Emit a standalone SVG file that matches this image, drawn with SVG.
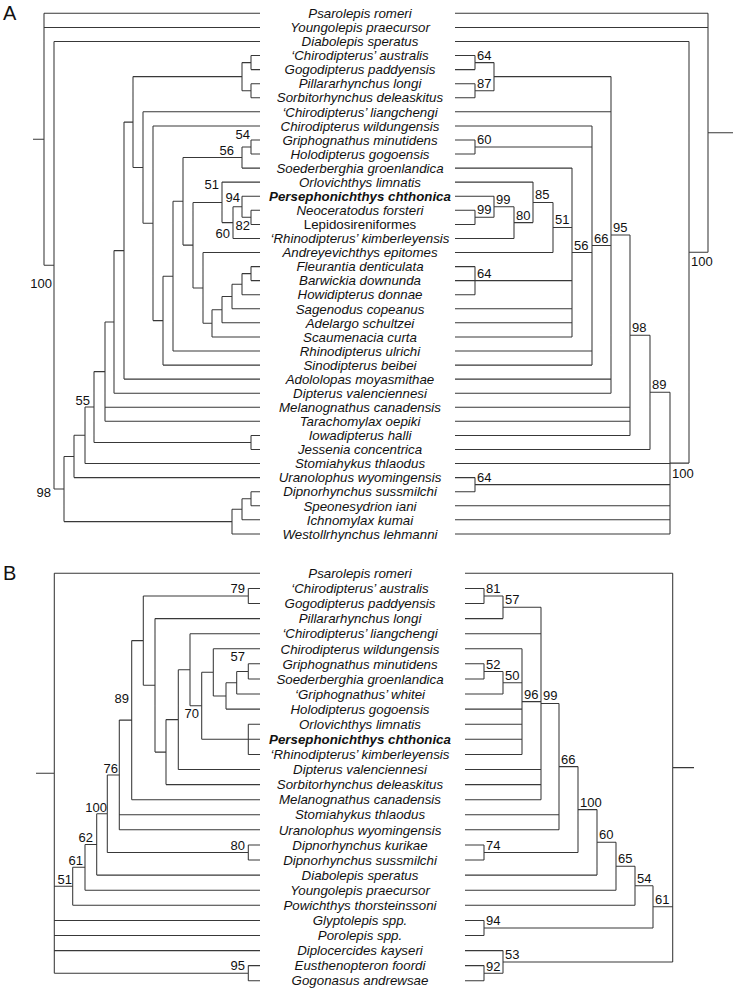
<svg xmlns="http://www.w3.org/2000/svg" width="738" height="992" viewBox="0 0 738 992">
<style>
.t{font-family:"Liberation Sans",Arial,sans-serif;font-size:13.3px;font-style:italic;text-anchor:middle;fill:#111}
.b{font-weight:bold}
.r{font-style:normal}
.s{font-family:"Liberation Sans",Arial,sans-serif;font-size:13px;fill:#111}
.e{text-anchor:end}
.p{font-family:"Liberation Sans",Arial,sans-serif;font-size:20px;fill:#111}
.c path{stroke:#383838;stroke-width:1.05;fill:none}
</style>
<rect width="738" height="992" fill="#fff"/>
<text class="p" x="3" y="20">A</text>
<text class="p" x="3" y="580">B</text>

<g id="connectors" class="c">
<!-- Panel A left tree -->
<path d="M33 139.3H44M44 13.3V265.2M44 13.3H260M44 27.4H260M44 265.2H54M54 41.4V489M54 41.4H260M54 489H64M64 456.5V521.6M64 456.5H74M64 521.6H232M232 509.3V533.9M232 509.3H242M232 533.9H260M242 498.7V519.8M242 498.7H251M242 519.8H260M251 491.7V505.8M251 491.7H260M251 505.8H260"/>
<path d="M74 435.3V477.6M74 435.3H85M74 477.6H260M85 407V463.5M85 407H94M85 463.5H260M94 371.6V442.4M94 371.6H105M94 442.4H251M251 435.4V449.5M251 435.4H260M251 449.5H260M105 321.9V421.3M105 321.9H114M105 407.3H260M105 421.3H260M114 250.6V393.2M114 250.6H124M114 393.2H260M124 122.1V379.1M124 122.1H133M124 379.1H260"/>
<path d="M133 76.6V167.5M133 76.6H242M133 167.5H143M242 62.6V90.7M242 62.6H251M242 90.7H251M251 55.5V69.6M251 55.5H260M251 69.6H260M251 83.7V97.7M251 83.7H260M251 97.7H260"/>
<path d="M143 111.8V223.2M143 111.8H260M143 223.2H153M153 125.9V320.6M153 125.9H260M153 320.6H163M163 276.2V365.1M163 276.2H173M163 365.1H260M173 201.3V351M173 201.3H183M173 351H260M183 157.5V245.1M183 157.5H242M183 245.1H193M242 147V168.1M242 147H251M242 168.1H260M251 139.9V154M251 139.9H260M251 154H260"/>
<path d="M193 202.4V287.9M193 202.4H222M193 287.9H203M222 182.1V222.6M222 182.1H260M222 222.6H233M233 206.8V238.4M233 206.8H242M233 238.4H260M242 196.2V217.3M242 196.2H260M242 217.3H251M251 210.3V224.4M251 210.3H260M251 224.4H260"/>
<path d="M203 252.5V323.3M203 252.5H260M203 323.3H212M212 309.7V336.9M212 309.7H222M212 336.9H260M222 296.5V322.8M222 296.5H232M222 322.8H260M232 284.2V308.8M232 284.2H242M232 308.8H260M242 273.6V294.7M242 273.6H251M242 294.7H260M251 266.6V280.6M251 266.6H260M251 280.6H260"/>
<!-- Panel A right tree -->
<path d="M708 132.8H733M708 13.3V252.3M455 13.3H708M455 27.4H708M689 252.3H708M689 41.4V463.1M455 41.4H689M670 463.1H689M670 392.3V533.9M650 392.3H670M455 463.5H670M475 484.6H670M475 477.6V491.7M455 477.6H475M455 491.7H475M455 505.8H670M455 519.8H670M455 533.9H670"/>
<path d="M650 335.2V449.5M630 335.2H650M455 449.5H650M630 234.9V435.4M611 234.9H630M455 407.3H630M455 421.3H630M455 435.4H630M611 76.6V393.2M494 76.6H611M455 111.8H611M592 245.5H611M455 379.1H611M455 393.2H611"/>
<path d="M494 62.6V90.7M475 62.6H494M475 90.7H494M475 55.5V69.6M455 55.5H475M455 69.6H475M475 83.7V97.7M455 83.7H475M455 97.7H475"/>
<path d="M592 125.9V365.1M455 125.9H592M475 147H592M475 139.9V154M455 139.9H475M455 154H475M572 252.5H592M455 351H592M455 365.1H592"/>
<path d="M572 168.1V336.9M455 168.1H572M553 227.4H572M455 280.6H572M455 308.8H572M455 322.8H572M455 336.9H572M475 266.6V294.7M455 266.6H475M455 294.7H475"/>
<path d="M553 202.4V252.5M533 202.4H553M455 252.5H553M533 182.1V222.6M455 182.1H533M514 222.6H533M514 206.8V238.4M494 206.8H514M455 238.4H514M494 196.2V217.3M455 196.2H494M475 217.3H494M475 210.3V224.4M455 210.3H475M455 224.4H475"/>
<!-- Panel B left tree -->
<path d="M36 773.2H54.3M54.3 573.3V973.2M54.3 573.3H260M54.3 886.3H72.7M54.3 920.4H260M54.3 935.5H260M54.3 950.6H260M54.3 973.2H248.3M248.3 965.6V980.7M248.3 965.6H260M248.3 980.7H260"/>
<path d="M72.7 867.3V905.3M72.7 867.3H85M72.7 905.3H260M85 844.4V890.2M85 844.4H96.7M85 890.2H260M96.7 813.7V875.1M96.7 813.7H107.3M96.7 875.1H260M107.3 775V852.5M107.3 775H119.3M107.3 852.5H248.3M248.3 844.9V860M248.3 844.9H260M248.3 860H260"/>
<path d="M119.3 720.1V829.8M119.3 720.1H131.7M119.3 814.7H260M119.3 829.8H260M131.7 640.6V799.7M131.7 640.6H143.3M131.7 799.7H260M143.3 595.9V685.3M143.3 595.9H248.3M143.3 685.3H155M248.3 588.4V603.5M248.3 588.4H260M248.3 603.5H260"/>
<path d="M155 618.6V752.1M155 618.6H260M155 752.1H166M166 719.6V784.6M166 719.6H178.3M166 784.6H260M178.3 669.7V769.5M178.3 669.7H190M178.3 769.5H260M190 633.7V705.8M190 633.7H260M190 705.8H201.7"/>
<path d="M201.7 672.3V739.3M201.7 672.3H213.3M201.7 739.3H260M248.3 724.2V754.4M248.3 724.2H260M248.3 754.4H260M213.3 648.8V695.9M213.3 648.8H260M213.3 695.9H226M226 682.7V709.1M226 682.7H236.7M226 709.1H260M236.7 671.4V694M236.7 671.4H248.3M236.7 694H260M248.3 663.8V678.9M248.3 663.8H260M248.3 678.9H260"/>
<!-- Panel B right tree -->
<path d="M672.7 767.6H694M672.7 573.3V961.9M465 573.3H672.7M653 906.8H672.7M503 961.9H672.7M503 950.6V973.2M465 950.6H503M484 973.2H503M484 965.6V980.7M465 965.6H484M465 980.7H484"/>
<path d="M653 885.8V927.9M635 885.8H653M484 927.9H653M484 920.4V935.5M465 920.4H484M465 935.5H484M635 866.3V905.3M616 866.3H635M465 905.3H635M616 842.3V890.2M597 842.3H616M465 890.2H616M597 809.6V875.1M578 809.6H597M465 875.1H597"/>
<path d="M578 766.6V852.5M559 766.6H578M484 852.5H578M484 844.9V860M465 844.9H484M465 860H484M559 703.5V829.8M541 703.5H559M465 814.7H559M465 829.8H559"/>
<path d="M541 607.3V799.7M503 607.3H541M465 633.7H541M522 701.6H541M465 769.5H541M465 784.6H541M465 799.7H541M503 595.9V618.6M484 595.9H503M465 618.6H503M484 588.4V603.5M465 588.4H484M465 603.5H484"/>
<path d="M522 648.8V754.4M465 648.8H522M503 682.7H522M465 709.1H522M465 724.2H522M465 739.3H522M465 754.4H522M503 671.4V694M484 671.4H503M465 694H503M484 663.8V678.9M465 663.8H484M465 678.9H484"/>
</g>

<!-- Panel A taxa -->
<g id="A-psarolepis"><text class="t" x="360" y="18">Psarolepis romeri</text></g>
<g id="A-youngolepis"><text class="t" x="360" y="32.1">Youngolepis praecursor</text></g>
<g id="A-diabolepis"><text class="t" x="360" y="46.1">Diabolepis speratus</text></g>
<g id="A-chiro-australis"><text class="t" x="360" y="60.2">‘Chirodipterus’ australis</text></g>
<g id="A-gogodipterus"><text class="t" x="360" y="74.3">Gogodipterus paddyensis</text></g>
<g id="A-pillararhynchus"><text class="t" x="360" y="88.4">Pillararhynchus longi</text></g>
<g id="A-sorbitorhynchus"><text class="t" x="360" y="102.4">Sorbitorhynchus deleaskitus</text></g>
<g id="A-chiro-liangchengi"><text class="t" x="360" y="116.5">‘Chirodipterus’ liangchengi</text></g>
<g id="A-chiro-wildungensis"><text class="t" x="360" y="130.6">Chirodipterus wildungensis</text></g>
<g id="A-griphognathus"><text class="t" x="360" y="144.6">Griphognathus minutidens</text></g>
<g id="A-holodipterus"><text class="t" x="360" y="158.7">Holodipterus gogoensis</text></g>
<g id="A-soederberghia"><text class="t" x="360" y="172.8">Soederberghia groenlandica</text></g>
<g id="A-orlovichthys"><text class="t" x="360" y="186.8">Orlovichthys limnatis</text></g>
<g id="A-persephonichthys"><text class="t b" x="360" y="200.9">Persephonichthys chthonica</text></g>
<g id="A-neoceratodus"><text class="t" x="360" y="215">Neoceratodus forsteri</text></g>
<g id="A-lepidosireniformes"><text class="t r" x="360" y="229.1">Lepidosireniformes</text></g>
<g id="A-rhino-kimberleyensis"><text class="t" x="360" y="243.1">‘Rhinodipterus’ kimberleyensis</text></g>
<g id="A-andreyevichthys"><text class="t" x="360" y="257.2">Andreyevichthys epitomes</text></g>
<g id="A-fleurantia"><text class="t" x="360" y="271.3">Fleurantia denticulata</text></g>
<g id="A-barwickia"><text class="t" x="360" y="285.3">Barwickia downunda</text></g>
<g id="A-howidipterus"><text class="t" x="360" y="299.4">Howidipterus donnae</text></g>
<g id="A-sagenodus"><text class="t" x="360" y="313.5">Sagenodus copeanus</text></g>
<g id="A-adelargo"><text class="t" x="360" y="327.5">Adelargo schultzei</text></g>
<g id="A-scaumenacia"><text class="t" x="360" y="341.6">Scaumenacia curta</text></g>
<g id="A-rhino-ulrichi"><text class="t" x="360" y="355.7">Rhinodipterus ulrichi</text></g>
<g id="A-sinodipterus"><text class="t" x="360" y="369.8">Sinodipterus beibei</text></g>
<g id="A-adololopas"><text class="t" x="360" y="383.8">Adololopas moyasmithae</text></g>
<g id="A-dipterus"><text class="t" x="360" y="397.9">Dipterus valenciennesi</text></g>
<g id="A-melanognathus"><text class="t" x="360" y="412">Melanognathus canadensis</text></g>
<g id="A-tarachomylax"><text class="t" x="360" y="426">Tarachomylax oepiki</text></g>
<g id="A-iowadipterus"><text class="t" x="360" y="440.1">Iowadipterus halli</text></g>
<g id="A-jessenia"><text class="t" x="360" y="454.2">Jessenia concentrica</text></g>
<g id="A-stomiahykus"><text class="t" x="360" y="468.2">Stomiahykus thlaodus</text></g>
<g id="A-uranolophus"><text class="t" x="360" y="482.3">Uranolophus wyomingensis</text></g>
<g id="A-dipnorhynchus"><text class="t" x="360" y="496.4">Dipnorhynchus sussmilchi</text></g>
<g id="A-speonesydrion"><text class="t" x="360" y="510.5">Speonesydrion iani</text></g>
<g id="A-ichnomylax"><text class="t" x="360" y="524.5">Ichnomylax kumai</text></g>
<g id="A-westollrhynchus"><text class="t" x="360" y="538.6">Westollrhynchus lehmanni</text></g>

<!-- Panel A support values -->
<g id="A-support-left">
<text class="s e" x="250" y="139">54</text>
<text class="s e" x="234" y="155">56</text>
<text class="s e" x="219" y="189">51</text>
<text class="s e" x="240" y="202">94</text>
<text class="s e" x="250" y="230">82</text>
<text class="s e" x="230" y="238">60</text>
<text class="s e" x="90" y="405">55</text>
<text class="s e" x="52" y="288">100</text>
<text class="s e" x="51" y="497">98</text>
</g>
<g id="A-support-right">
<text class="s" x="477" y="59.5">64</text>
<text class="s" x="477" y="87.7">87</text>
<text class="s" x="477" y="144">60</text>
<text class="s" x="477" y="214.3">99</text>
<text class="s" x="496" y="203.8">99</text>
<text class="s" x="516" y="219.6">80</text>
<text class="s" x="535" y="199.4">85</text>
<text class="s" x="555" y="224.4">51</text>
<text class="s" x="477" y="277.6">64</text>
<text class="s" x="574" y="249.5">56</text>
<text class="s" x="594" y="242.5">66</text>
<text class="s" x="613" y="231.9">95</text>
<text class="s" x="632" y="332.2">98</text>
<text class="s" x="652" y="389.3">89</text>
<text class="s" x="477" y="481.7">64</text>
<text class="s" x="672" y="478">100</text>
<text class="s" x="691" y="266">100</text>
</g>

<!-- Panel B taxa -->
<g id="B-psarolepis"><text class="t" x="360" y="578">Psarolepis romeri</text></g>
<g id="B-chiro-australis"><text class="t" x="360" y="593.1">‘Chirodipterus’ australis</text></g>
<g id="B-gogodipterus"><text class="t" x="360" y="608.2">Gogodipterus paddyensis</text></g>
<g id="B-pillararhynchus"><text class="t" x="360" y="623.3">Pillararhynchus longi</text></g>
<g id="B-chiro-liangchengi"><text class="t" x="360" y="638.4">‘Chirodipterus’ liangchengi</text></g>
<g id="B-chiro-wildungensis"><text class="t" x="360" y="653.5">Chirodipterus wildungensis</text></g>
<g id="B-griphognathus"><text class="t" x="360" y="668.5">Griphognathus minutidens</text></g>
<g id="B-soederberghia"><text class="t" x="360" y="683.6">Soederberghia groenlandica</text></g>
<g id="B-grip-whitei"><text class="t" x="360" y="698.7">‘Griphognathus’ whitei</text></g>
<g id="B-holodipterus"><text class="t" x="360" y="713.8">Holodipterus gogoensis</text></g>
<g id="B-orlovichthys"><text class="t" x="360" y="728.9">Orlovichthys limnatis</text></g>
<g id="B-persephonichthys"><text class="t b" x="360" y="744">Persephonichthys chthonica</text></g>
<g id="B-rhino-kimberleyensis"><text class="t" x="360" y="759.1">‘Rhinodipterus’ kimberleyensis</text></g>
<g id="B-dipterus"><text class="t" x="360" y="774.2">Dipterus valenciennesi</text></g>
<g id="B-sorbitorhynchus"><text class="t" x="360" y="789.3">Sorbitorhynchus deleaskitus</text></g>
<g id="B-melanognathus"><text class="t" x="360" y="804.4">Melanognathus canadensis</text></g>
<g id="B-stomiahykus"><text class="t" x="360" y="819.4">Stomiahykus thlaodus</text></g>
<g id="B-uranolophus"><text class="t" x="360" y="834.5">Uranolophus wyomingensis</text></g>
<g id="B-dipno-kurikae"><text class="t" x="360" y="849.6">Dipnorhynchus kurikae</text></g>
<g id="B-dipno-sussmilchi"><text class="t" x="360" y="864.7">Dipnorhynchus sussmilchi</text></g>
<g id="B-diabolepis"><text class="t" x="360" y="879.8">Diabolepis speratus</text></g>
<g id="B-youngolepis"><text class="t" x="360" y="894.9">Youngolepis praecursor</text></g>
<g id="B-powichthys"><text class="t" x="360" y="910">Powichthys thorsteinssoni</text></g>
<g id="B-glyptolepis"><text class="t" x="360" y="925.1">Glyptolepis spp.</text></g>
<g id="B-porolepis"><text class="t" x="360" y="940.2">Porolepis spp.</text></g>
<g id="B-diplocercides"><text class="t" x="360" y="955.3">Diplocercides kayseri</text></g>
<g id="B-eusthenopteron"><text class="t" x="360" y="970.3">Eusthenopteron foordi</text></g>
<g id="B-gogonasus"><text class="t" x="360" y="985.4">Gogonasus andrewsae</text></g>

<!-- Panel B support values -->
<g id="B-support-left">
<text class="s e" x="245" y="593">79</text>
<text class="s e" x="245" y="661">57</text>
<text class="s e" x="199" y="718">70</text>
<text class="s e" x="129" y="703">89</text>
<text class="s e" x="118" y="773">76</text>
<text class="s e" x="107" y="812">100</text>
<text class="s e" x="93" y="842">62</text>
<text class="s e" x="83" y="865">61</text>
<text class="s e" x="72" y="884">51</text>
<text class="s e" x="245" y="850">80</text>
<text class="s e" x="245" y="970">95</text>
</g>
<g id="B-support-right">
<text class="s" x="486" y="593">81</text>
<text class="s" x="505" y="604">57</text>
<text class="s" x="486" y="668.5">52</text>
<text class="s" x="505" y="680">50</text>
<text class="s" x="524" y="699">96</text>
<text class="s" x="543" y="700">99</text>
<text class="s" x="561" y="763.5">66</text>
<text class="s" x="486" y="849.5">74</text>
<text class="s" x="580" y="806.5">100</text>
<text class="s" x="599" y="839.3">60</text>
<text class="s" x="618" y="863.3">65</text>
<text class="s" x="637" y="882.8">54</text>
<text class="s" x="486" y="925">94</text>
<text class="s" x="655" y="904">61</text>
<text class="s" x="505" y="959">53</text>
<text class="s" x="486" y="970.5">92</text>
</g>
</svg>
